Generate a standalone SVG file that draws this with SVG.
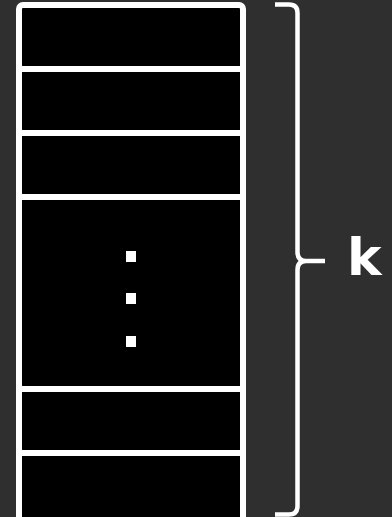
<svg xmlns="http://www.w3.org/2000/svg" width="392" height="517" viewBox="0 0 392 517">
<style>
.frame{fill:#000;stroke:#fff;stroke-width:6}
.sep{stroke:#fff;stroke-width:6}
.dot{fill:#fff}
.brace{fill:none;stroke:#fff;stroke-width:4.5;stroke-linecap:butt;stroke-linejoin:round}
.lbl{fill:#fff;font-family:"DejaVu Sans",sans-serif;font-weight:bold;font-size:52px}
</style>
<rect width="392" height="517" fill="#2f2f2f"/>
<g id="array">
<rect class="frame" x="19" y="5" width="224" height="516" rx="4"/>
<line class="sep" x1="19" y1="69" x2="243" y2="69"/>
<line class="sep" x1="19" y1="133" x2="243" y2="133"/>
<line class="sep" x1="19" y1="197" x2="243" y2="197"/>
<line class="sep" x1="19" y1="389" x2="243" y2="389"/>
<line class="sep" x1="19" y1="453" x2="243" y2="453"/>
<rect class="dot" x="126" y="251" width="10" height="11"/>
<rect class="dot" x="126" y="293" width="10" height="11"/>
<rect class="dot" x="126" y="336" width="10" height="11"/>
</g>
<g id="brace">
<path class="brace" d="M275,4.5 H289 Q297.5,4.5 297.5,13 V252 Q297.5,261 306,261 H325 M306,261 Q297.5,261 297.5,270 V506 Q297.5,514.5 289,514.5 H275"/>
<text class="lbl" x="347" y="275">k</text>
</g>
</svg>
